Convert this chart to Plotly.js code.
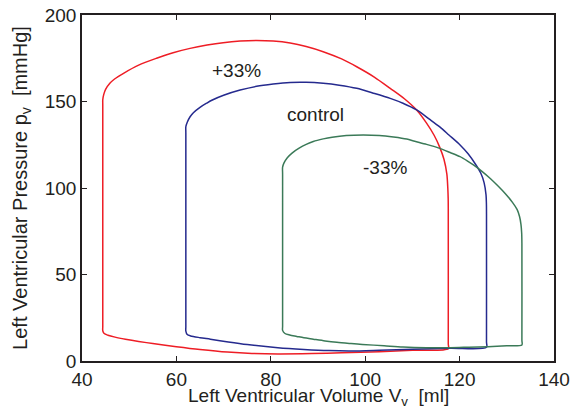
<!DOCTYPE html>
<html>
<head>
<meta charset="utf-8">
<script src="https://cdn.plot.ly/plotly-3.0.1.min.js"></script>
<style>html,body{margin:0;padding:0;background:#fff;}#chart{width:572px;height:413px;}</style>
</head>
<body>
<div id="chart"></div>
<script>
// +33% loop (red)
const redV = [44.4, 44.7, 45.5, 47, 49.2, 52, 55, 60, 65, 70.8, 76, 81.5, 88.7, 95, 103, 110, 117.6,
  117.6, 117.6, 117.58, 117.5, 117.3, 116.7, 115.8, 114.6, 113, 110.9, 108.3, 105.3, 102, 98.2, 95, 91.1, 87.5, 84.1,
  80.5, 77, 73.5, 69.9, 66.5, 62.9, 59.3, 55.8, 52, 48.8, 46.9, 45.9, 45, 44.6, 44.4, 44.4, 44.4, 44.4];
const redP = [17.5, 15.9, 14.9, 13.8, 12.6, 11.3, 10.1, 8.3, 6.7, 5.2, 4.4, 4.1, 4.3, 4.7, 5.4, 6.2, 7.1,
  10, 88, 94, 100, 108, 116.5, 123.5, 130.5, 137.5, 145.1, 151.6, 157.6, 164, 170.1, 174.6, 178.8, 181.8, 183.8,
  184.9, 185.2, 184.9, 184, 182.6, 180.7, 178.2, 175, 171, 166.3, 163, 160.5, 157, 154, 151, 148, 20, 17.5];

// control loop (blue)
const blueV = [62, 62.3, 63, 65, 67.2, 71, 75, 81.5, 87, 92.3, 97, 103, 110, 118, 125.7,
  125.7, 125.7, 125.68, 125.6, 125.2, 124.5, 123.3, 121.8, 120.1, 117.8, 115.8, 113.6, 110.9, 108, 105.3, 102, 98.2,
  94.5, 91.1, 87.5, 84.1, 80.5, 77, 73.5, 70, 67.5, 66.4, 65, 63.6, 62.9, 62.3, 62, 62, 62, 62];
const blueP = [17.3, 15.3, 14.5, 13.5, 12.6, 11, 9.5, 7.7, 6.7, 6, 5.8, 6.2, 6.8, 7.4, 7.9,
  11, 85, 91, 96, 103, 108.5, 114, 119.8, 124.9, 130.5, 135.3, 139.8, 145.1, 149, 151.8, 154.6, 157.6,
  159.4, 160.5, 161.1, 161, 160.1, 158.8, 156.6, 153.6, 150.7, 149, 146.6, 143.5, 141.2, 138, 135.4, 132, 20, 17.3];

// -33% loop (green)
const greenV = [82.5, 83, 84, 85.5, 87, 89, 91.5, 94, 97, 99.4, 104, 108, 113, 118, 122, 126, 130, 133.2,
  133.2, 133.2, 133.15, 133.0, 132.7, 132.2, 131.2, 129.7, 128.2, 126.5, 124.8, 123, 121.6, 120.1, 118, 115.8, 113,
  110.5, 108.8, 106, 103, 99.6, 96, 93, 91.1, 89, 87.5, 86, 84.5, 83.5, 82.8, 82.5, 82.5, 82.5, 82.5];
const greenP = [17.7, 15.9, 15, 14.2, 13.4, 12.6, 11.6, 10.8, 10.1, 9.6, 8.8, 8.1, 7.7, 7.7, 8.0, 8.3, 8.8, 9.3,
  12, 68, 74, 79, 83.5, 87.5, 91.7, 96.7, 101, 105.5, 109.5, 113.2, 115.7, 118.1, 120.5, 122.9, 125.2,
  127, 128.3, 129.5, 130.4, 130.7, 130.4, 129.4, 128.4, 126.9, 125.2, 123, 120.2, 117.5, 114.5, 112, 108, 20, 17.7];

const labelText = ["+33%", "control", "-33%"];
const labelV = [72.8, 89.4, 104.2];
const labelP = [167.8, 142.2, 112];

const xTicks = [40, 60, 80, 100, 120, 140];
const yTicks = [0, 50, 100, 150, 200];

const xTitle = "Left Ventricular Volume V<sub>v</sub>\u00a0\u00a0[ml]";
const yTitle = "Left Ventricular Pressure p<sub>v</sub>\u00a0\u00a0[mmHg]";

const FONT = "Liberation Sans, Arial, Helvetica, sans-serif";
const INK = "#231f20";

function loop(v, p, color) {
  return {x: v, y: p, mode: "lines", line: {color: color, width: 1.5, shape: "spline", smoothing: 0.8}, hoverinfo: "skip"};
}

const traces = [
  loop(redV, redP, "#ee1d25"),
  loop(blueV, blueP, "#252a8e"),
  loop(greenV, greenP, "#3b7a58")
];

const annotations = labelText.map((t, i) => ({
  x: labelV[i], y: labelP[i], xref: "x", yref: "y", text: t, showarrow: false,
  font: {family: FONT, size: 19, color: INK}
}));
annotations.push({
  x: 0.5, y: -0.064, xref: "paper", yref: "paper", xanchor: "center", yanchor: "top",
  text: xTitle, showarrow: false, font: {family: FONT, size: 19, color: INK}
});

const layout = {
  width: 572, height: 413,
  margin: {l: 82, r: 18, t: 15, b: 52},
  paper_bgcolor: "#fff", plot_bgcolor: "#fff",
  showlegend: false,
  font: {family: FONT, size: 19, color: INK},
  xaxis: {
    range: [40, 140], tickvals: xTicks, ticktext: xTicks.map(String),
    ticks: "inside", ticklen: 5, tickwidth: 1, tickcolor: INK,
    showline: true, linecolor: INK, linewidth: 1.8, mirror: "ticks",
    showgrid: false, zeroline: false,
    tickfont: {family: FONT, size: 19, color: INK}
  },
  yaxis: {
    range: [0, 200], tickvals: yTicks, ticktext: yTicks.map(String),
    ticks: "inside", ticklen: 5, tickwidth: 1, tickcolor: INK,
    showline: true, linecolor: INK, linewidth: 1.8, mirror: "ticks",
    showgrid: false, zeroline: false,
    tickfont: {family: FONT, size: 19, color: INK},
    title: {text: yTitle, font: {family: FONT, size: 20, color: INK}, standoff: 12}
  },
  annotations: annotations
};

Plotly.newPlot("chart", traces, layout, {staticPlot: true, displayModeBar: false});
</script>
</body>
</html>
